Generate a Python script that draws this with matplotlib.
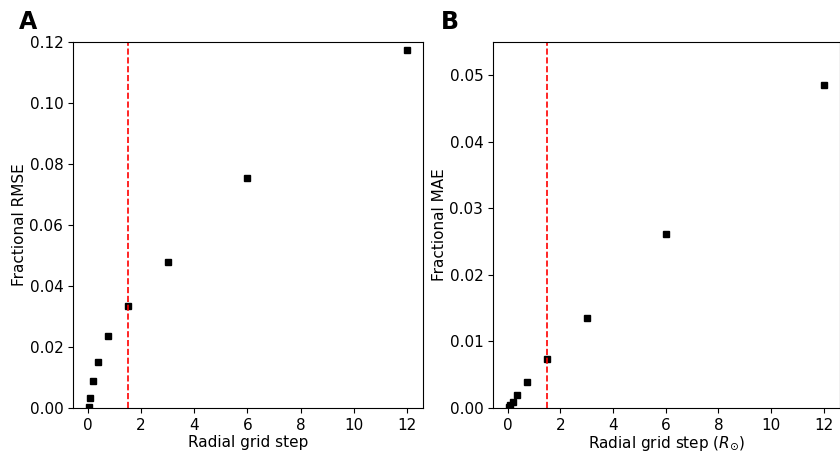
import matplotlib
matplotlib.use("Agg")
import matplotlib.pyplot as plt

grid_step = [0.046875, 0.09375, 0.1875, 0.375, 0.75, 1.5, 3, 6, 12]
frac_rmse = [0.0003, 0.0033, 0.0088, 0.0150, 0.0235, 0.0333, 0.0479, 0.0755, 0.1173]
frac_mae = [0.0002, 0.0005, 0.0009, 0.0019, 0.0039, 0.0073, 0.0136, 0.0262, 0.0486]
cutoff = 1.5

fig = plt.figure(figsize=(8.4, 4.53), dpi=100)
axA = fig.add_axes([0.087, 0.0993, 0.4166, 0.8080])
axB = fig.add_axes([0.587, 0.0993, 0.4125, 0.8080])

for ax, y, ylab, xlab, ylim in [
    (axA, frac_rmse, "Fractional RMSE", "Radial grid step", (0, 0.12)),
    (axB, frac_mae, "Fractional MAE", r"Radial grid step ($R_{\odot}$)", (0, 0.055)),
]:
    ax.plot(grid_step, y, "s", color="black", ms=5, linestyle="none")
    ax.axvline(cutoff, color="red", linestyle="--", lw=1.2)
    ax.set_ylim(*ylim)
    ax.set_xlim(-0.55, 12.6)
    ax.set_xticks([0, 2, 4, 6, 8, 10, 12])
    ax.set_xlabel(xlab, fontsize=11, labelpad=1.5)
    ax.set_ylabel(ylab, fontsize=11, labelpad=2)
    ax.tick_params(labelsize=11)

axA.set_yticks([0, 0.02, 0.04, 0.06, 0.08, 0.10, 0.12])
axA.set_yticklabels(["0.00", "0.02", "0.04", "0.06", "0.08", "0.10", "0.12"])
axB.set_yticks([0, 0.01, 0.02, 0.03, 0.04, 0.05])
axB.set_yticklabels(["0.00", "0.01", "0.02", "0.03", "0.04", "0.05"])

fig.text(0.022, 0.935, "A", fontsize=17, fontweight="bold")
fig.text(0.525, 0.935, "B", fontsize=17, fontweight="bold")

fig.savefig("out.png", dpi=100)
